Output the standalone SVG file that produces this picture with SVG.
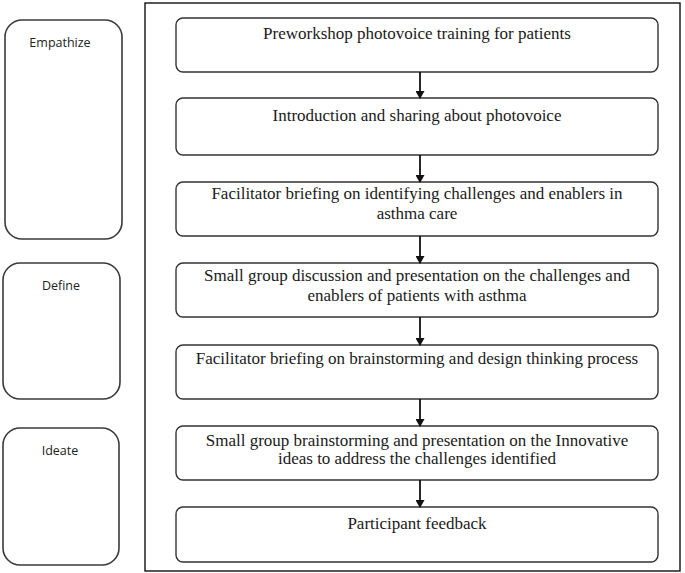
<svg xmlns="http://www.w3.org/2000/svg" width="685" height="573" viewBox="0 0 685 573">
<style>
.phase{fill:#fff;stroke:#3a3a3a;stroke-width:1.6}
.step{fill:#fff;stroke:#333;stroke-width:1.4}
.frame{fill:none;stroke:#111;stroke-width:1.4}
.pt{font-family:'Open Sans','Liberation Sans',sans-serif;font-size:12.5px;fill:#222;text-anchor:middle}
.st{font-family:'Liberation Serif','DejaVu Serif',serif;font-size:17px;fill:#1a1a1a;text-anchor:middle}
.conn{stroke:#111;stroke-width:1.8;fill:none}
</style>
<defs>
<marker id="ah" markerWidth="8" markerHeight="9" refX="7" refY="4.5" orient="auto" markerUnits="userSpaceOnUse">
<path d="M0,0 L8,4.5 L0,9 Z" fill="#111"/>
</marker>
</defs>
<rect width="685" height="573" fill="#fff"/>
<g id="phase-empathize"><rect class="phase" x="5" y="20" width="117" height="219" rx="17"/><text class="pt" x="60" y="47">Empathize</text></g>
<g id="phase-define"><rect class="phase" x="3" y="263" width="117" height="136" rx="17"/><text class="pt" x="61" y="290">Define</text></g>
<g id="phase-ideate"><rect class="phase" x="3" y="428" width="116" height="137" rx="17"/><text class="pt" x="60" y="455">Ideate</text></g>
<rect id="frame" class="frame" x="145" y="3" width="535" height="568"/>
<g id="step1"><rect class="step" x="176" y="18" width="482" height="54" rx="7"/><text class="st" x="417" y="39">Preworkshop photovoice training for patients</text></g>
<g id="step2"><rect class="step" x="176" y="98" width="482" height="57" rx="7"/><text class="st" x="417" y="121">Introduction and sharing about photovoice</text></g>
<g id="step3"><rect class="step" x="176" y="182" width="482" height="54" rx="7"/><text class="st" x="417" y="199">Facilitator briefing on identifying challenges and enablers in</text><text class="st" x="417" y="219">asthma care</text></g>
<g id="step4"><rect class="step" x="176" y="263" width="482" height="54" rx="7"/><text class="st" x="417" y="281">Small group discussion and presentation on the challenges and</text><text class="st" x="417" y="301">enablers of patients with asthma</text></g>
<g id="step5"><rect class="step" x="176" y="345" width="482" height="54" rx="7"/><text class="st" x="417" y="364">Facilitator briefing on brainstorming and design thinking process</text></g>
<g id="step6"><rect class="step" x="176" y="426" width="482" height="54" rx="7"/><text class="st" x="417" y="445.5">Small group brainstorming and presentation on the Innovative</text><text class="st" x="417" y="464">ideas to address the challenges identified</text></g>
<g id="step7"><rect class="step" x="176" y="507" width="482" height="55" rx="7"/><text class="st" x="417" y="529">Participant feedback</text></g>
<g id="connectors">
<line class="conn" x1="420" y1="72" x2="420" y2="98" marker-end="url(#ah)"/>
<line class="conn" x1="420" y1="155" x2="420" y2="182" marker-end="url(#ah)"/>
<line class="conn" x1="420" y1="236" x2="420" y2="263" marker-end="url(#ah)"/>
<line class="conn" x1="420" y1="317" x2="420" y2="345" marker-end="url(#ah)"/>
<line class="conn" x1="420" y1="399" x2="420" y2="426" marker-end="url(#ah)"/>
<line class="conn" x1="420" y1="480" x2="420" y2="507" marker-end="url(#ah)"/>
</g>
</svg>
